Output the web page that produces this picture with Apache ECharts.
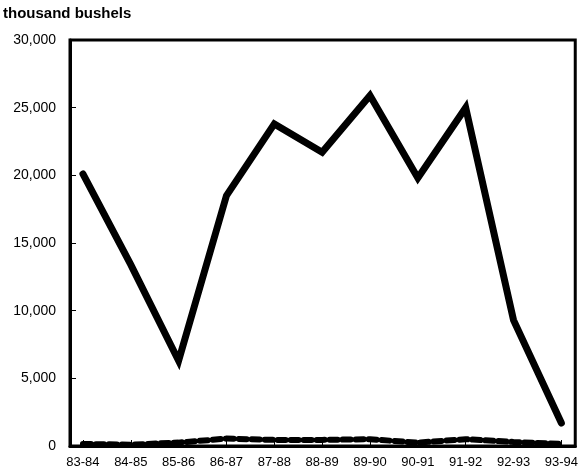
<!DOCTYPE html>
<html>
<head>
<meta charset="utf-8">
<script src="https://cdn.jsdelivr.net/npm/echarts@6/dist/echarts.min.js"></script>
<style>
html,body{margin:0;padding:0;background:#fff;}
#c{width:581px;height:472px;}
</style>
</head>
<body>
<div id="c"></div>
<script>
const categories = ['83-84','84-85','85-86','86-87','87-88','88-89','89-90','90-91','91-92','92-93','93-94'];
const seriesA = [20100, 13400, 6300, 18500, 23800, 21700, 25900, 19800, 25000, 9300, 1700];
const seriesB = [150, 100, 250, 550, 450, 450, 500, 250, 500, 300, 150];
const yTicks = [0, 5000, 10000, 15000, 20000, 25000, 30000];
const yTitle = 'thousand bushels';

const idx = categories.map((c, i) => i);
const toPairs = arr => arr.map((v, i) => [i, v]);
const fmt = v => v.toLocaleString('en-US');

const chart = echarts.init(document.getElementById('c'), null, {renderer: 'canvas'});
chart.setOption({
  animation: false,
  backgroundColor: '#fff',
  textStyle: {fontFamily: 'Liberation Sans, Arial, sans-serif', color: '#000'},
  title: {
    text: yTitle, left: 3, top: 6, padding: 0,
    textStyle: {fontSize: 15, fontWeight: 'bold', color: '#000', fontFamily: 'Liberation Sans, Arial, sans-serif'}
  },
  grid: {left: 70, right: 4, top: 40, bottom: 26, show: true, borderColor: '#000', borderWidth: 3},
  xAxis: {
    type: 'value', min: -0.27, max: 10.29,
    splitLine: {show: false},
    axisLine: {show: true, onZero: false, lineStyle: {color: '#000', width: 3}},
    axisTick: {show: true, inside: true, length: 6, customValues: idx, lineStyle: {color: '#000', width: 1}},
    axisLabel: {
      customValues: idx, margin: 10, fontSize: 13, color: '#000',
      fontFamily: 'Liberation Sans, Arial, sans-serif',
      formatter: v => categories[Math.round(v)]
    }
  },
  yAxis: {
    type: 'value', min: 0, max: 30000, interval: 5000,
    splitLine: {show: false},
    axisLine: {show: true, onZero: false, lineStyle: {color: '#000', width: 3}},
    axisTick: {show: true, inside: true, length: 6, lineStyle: {color: '#000', width: 1}},
    axisLabel: {
      margin: 14, fontSize: 14, color: '#000',
      fontFamily: 'Liberation Sans, Arial, sans-serif',
      formatter: v => fmt(v)
    }
  },
  series: [
    {
      type: 'line', data: toPairs(seriesA), symbol: 'none',
      lineStyle: {color: '#000', width: 7, join: 'miter', cap: 'round'}
    },
    {
      type: 'line', data: toPairs(seriesB), symbol: 'none',
      lineStyle: {color: '#000', width: 6, type: [8, 5], cap: 'round'}
    }
  ]
});
</script>
</body>
</html>
